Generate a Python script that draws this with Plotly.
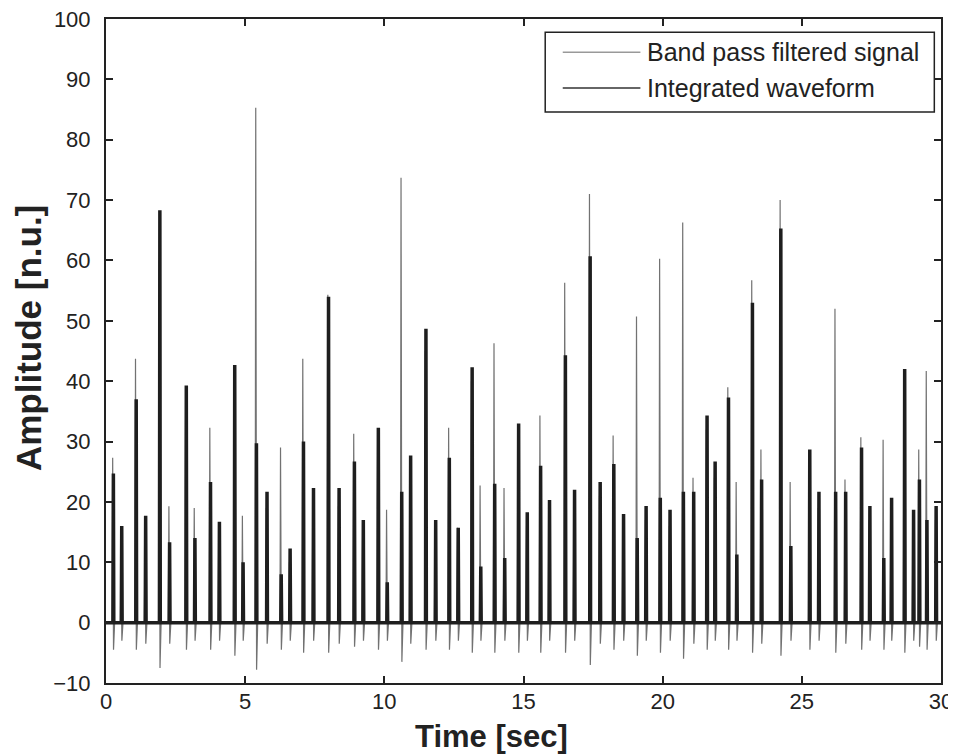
import plotly.graph_objects as go

# beat times (sec)
beat_t = [0.24, 0.54, 1.06, 1.40, 1.91, 2.26, 2.86, 3.17, 3.73, 4.05,
          4.60, 4.90, 5.38, 5.76, 6.27, 6.59, 7.07, 7.43, 7.97, 8.35,
          8.90, 9.22, 9.76, 10.08, 10.60, 10.92, 11.47, 11.82, 12.31, 12.63,
          13.13, 13.44, 13.94, 14.30, 14.80, 15.11, 15.59, 15.91, 16.48, 16.81,
          17.37, 17.73, 18.22, 18.57, 19.06, 19.38, 19.89, 20.24, 20.72, 21.09,
          21.57, 21.86, 22.34, 22.64, 23.20, 23.53, 24.22, 24.58, 25.26, 25.59,
          26.19, 26.55, 27.12, 27.42, 27.92, 28.20, 28.67, 28.99, 29.20, 29.47,
          29.80]

# band pass filtered signal: peak and trough per beat
bp_peak = [27.3, 14, 43.7, 15, 60, 19.3, 35, 19, 32.3, 14,
           38, 17.7, 85.3, 19, 29, 10, 43.7, 20, 54.3, 19.3,
           31.3, 15, 30, 18.7, 73.7, 25, 45, 15, 32.3, 15.7,
           40, 22.7, 46.3, 22.3, 30, 16, 34.3, 18, 56.3, 20,
           71, 21, 31, 16, 50.7, 17, 60.3, 16, 66.3, 24,
           32, 24, 39, 23.3, 56.7, 28.7, 70, 23.3, 22.3, 19,
           52, 23.7, 30.7, 17, 30.3, 18, 38, 16, 28.7, 41.7,
           17]
bp_trough = [-4.5, -3, -4.5, -3.5, -7.5, -3.5, -4.5, -3, -4.5, -3,
             -5.5, -3, -7.8, -3.5, -4.5, -3, -5, -3, -5, -3.5,
             -4, -3, -4.5, -3, -6.5, -3.5, -4.5, -3, -4.5, -3,
             -5, -3, -5, -3, -5, -3, -5, -3, -5, -3,
             -7, -3.5, -4.5, -3, -5.5, -3, -5, -3, -6, -3.5,
             -4.5, -3, -4.5, -3, -5, -3.5, -5.5, -3, -4.5, -3,
             -5, -3.5, -4.5, -3, -4.5, -3, -5, -3, -4, -4.5,
             -3]

# integrated waveform: peak per beat
int_peak = [24.7, 16, 37, 17.7, 68.3, 13.3, 39.3, 14, 23.3, 16.7,
            42.7, 10, 29.7, 21.7, 8, 12.3, 30, 22.3, 54, 22.3,
            26.7, 17, 32.3, 6.7, 21.7, 27.7, 48.7, 17, 27.3, 15.7,
            42.3, 9.3, 23, 10.7, 33, 18.3, 26, 20.3, 44.3, 22,
            60.7, 23.3, 26.3, 18, 14, 19.3, 20.7, 18.7, 21.7, 21.7,
            34.3, 26.7, 37.3, 11.3, 53, 23.7, 65.3, 12.7, 28.7, 21.7,
            21.7, 21.7, 29, 19.3, 10.7, 20.7, 42, 18.7, 23.7, 17,
            19.3]

x_ticks = [0, 5, 10, 15, 20, 25, 30]
y_ticks = [-10, 0, 10, 20, 30, 40, 50, 60, 70, 80, 90, 100]

BP_COLOR = "#727272"
INT_COLOR = "#1e1e1e"
FONT = "Liberation Sans, Arial"

# build spike polylines from the beat arrays
bp_x, bp_y = [0], [0]
for t, p, tr in zip(beat_t, bp_peak, bp_trough):
    bp_x += [t - 0.02, t, t + 0.03, t + 0.07]
    bp_y += [0, p, tr, 0]
bp_x.append(30)
bp_y.append(0)

int_x, int_y = [0], [0]
for t, p in zip(beat_t, int_peak):
    int_x += [t + 0.01, t + 0.025, t + 0.04]
    int_y += [0, p, 0]
int_x.append(30)
int_y.append(0)

fig = go.Figure()
fig.add_trace(go.Scatter(x=bp_x, y=bp_y, mode="lines", name="Band pass filtered signal",
                         line=dict(color=BP_COLOR, width=1.2), showlegend=False))
fig.add_trace(go.Scatter(x=int_x, y=int_y, mode="lines", name="Integrated waveform",
                         line=dict(color=INT_COLOR, width=3.5), showlegend=False))

# legend drawn by hand so the sample lines are long like the original
fig.add_shape(type="rect", xref="paper", yref="paper", x0=0.526, x1=0.992, y0=0.860, y1=0.980,
              line=dict(color="#222", width=1.5), fillcolor="white", layer="above")
fig.add_shape(type="line", xref="paper", yref="paper", x0=0.547, x1=0.640, y0=0.950, y1=0.950,
              line=dict(color="#999", width=1.5), layer="above")
fig.add_shape(type="line", xref="paper", yref="paper", x0=0.547, x1=0.640, y0=0.896, y1=0.896,
              line=dict(color="#333", width=1.5), layer="above")
fig.add_annotation(xref="paper", yref="paper", x=0.645, y=0.950, xanchor="left", yanchor="middle",
                   text="Band pass filtered signal", showarrow=False, font=dict(size=25, color="#222"))
fig.add_annotation(xref="paper", yref="paper", x=0.645, y=0.896, xanchor="left", yanchor="middle",
                   text="Integrated waveform", showarrow=False, font=dict(size=25, color="#222"))

# axis titles as annotations, placed where they sit in the original
fig.add_annotation(xref="paper", yref="paper", x=0.462, y=-0.080, xanchor="center", yanchor="middle",
                   text="<b>Time [sec]</b>", showarrow=False, font=dict(size=31, color="#222"))
fig.add_annotation(xref="paper", yref="paper", x=-0.093, y=0.52, xanchor="center", yanchor="middle",
                   text="<b>Amplitude [n.u.]</b>", showarrow=False, textangle=-90,
                   font=dict(size=35, color="#222"))

# page body has an 8px margin, so the figure is 8px smaller than the window
fig.update_layout(
    width=948, height=748,
    margin=dict(l=98, r=15, t=11, b=73),
    paper_bgcolor="white", plot_bgcolor="white",
    font=dict(family=FONT, size=22, color="#222"),
)
fig.update_xaxes(
    range=[0, 30], tickvals=x_ticks, ticks="inside", ticklen=7, tickwidth=1.5, tickcolor="#222",
    showline=True, linecolor="#222", linewidth=2, mirror="ticks", showgrid=False, zeroline=False,
    automargin=False, ticklabelstandoff=-2, ticklabeloverflow="allow",
)
fig.update_yaxes(
    range=[-10, 100], tickvals=y_ticks, ticks="inside", ticklen=7, tickwidth=1.5, tickcolor="#222",
    showline=True, linecolor="#222", linewidth=2, mirror="ticks", showgrid=False, zeroline=False,
    automargin=False, ticklabelstandoff=9, ticklabeloverflow="allow",
)

fig.write_html("out.html")
